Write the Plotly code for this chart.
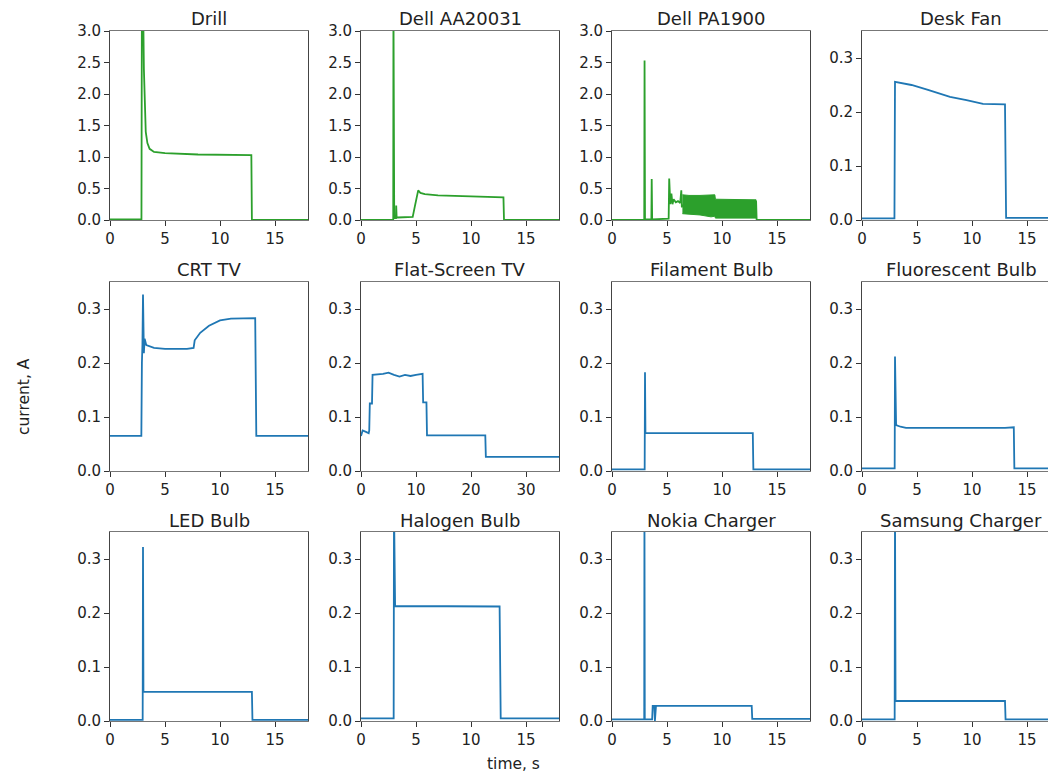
import plotly.graph_objects as go

W, H = 1048, 774

titles = ["Drill", "Dell AA20031", "Dell PA1900", "Desk Fan",
          "CRT TV", "Flat-Screen TV", "Filament Bulb", "Fluorescent Bulb",
          "LED Bulb", "Halogen Bulb", "Nokia Charger", "Samsung Charger"]

GREEN = "#2ca02c"
BLUE = "#1f77b4"

# --- data (time s, current A) ---
drill_t = [0, 2.86, 2.9, 3.02, 3.08, 3.15, 3.25, 3.4, 3.6, 4.0, 5.0, 8.0, 12.5, 12.85, 12.9, 18]
drill_i = [0.01, 0.01, 3.6, 3.3, 2.4, 1.75, 1.4, 1.22, 1.13, 1.08, 1.06, 1.04, 1.02, 1.03, 0.0, 0.0]

aa_t = [0, 2.93, 2.95, 3.0, 3.02, 3.18, 3.2, 3.24, 3.3, 4.7, 4.9, 5.05, 5.2, 5.4, 5.8, 7, 10, 12.95, 13.0, 18]
aa_i = [0.0, 0.0, 3.5, 0.03, 0.03, 0.03, 0.23, 0.04, 0.04, 0.05, 0.22, 0.38, 0.47, 0.43, 0.41, 0.39, 0.37, 0.36, 0.0, 0.0]

pa_t = [0, 2.93, 2.96, 3.0, 3.58, 3.61, 3.65, 5.15, 5.2, 5.25, 5.3, 5.4, 5.45, 5.5, 5.6, 5.8, 6.0, 6.2, 6.3, 6.35, 6.4]
pa_i = [0.0, 0.0, 2.53, 0.01, 0.01, 0.65, 0.01, 0.02, 0.66, 0.3, 0.25, 0.42, 0.3, 0.25, 0.33, 0.28, 0.3, 0.27, 0.47, 0.2, 0.25]
pa_band_t = [6.4, 7.0, 8.0, 9.0, 9.35, 9.4, 10.5, 11.5, 12.5, 13.1]
pa_band_hi = [0.40, 0.39, 0.39, 0.40, 0.40, 0.33, 0.33, 0.32, 0.32, 0.32]
pa_band_lo = [0.10, 0.09, 0.08, 0.05, 0.06, 0.03, 0.03, 0.03, 0.03, 0.03]
pa_tail_t = [13.1, 13.15, 18]
pa_tail_i = [0.3, 0.0, 0.0]

fan_t = [0, 2.95, 3.0, 4.5, 6.0, 8.0, 9.5, 11.0, 13.0, 13.1, 18]
fan_i = [0.003, 0.003, 0.256, 0.25, 0.241, 0.228, 0.222, 0.215, 0.214, 0.004, 0.004]

crt_t = [0, 2.85, 2.9, 2.95, 3.0, 3.08, 3.15, 3.3, 4.0, 5.0, 7.0, 7.6, 7.7, 8.2, 9.0, 10.0, 11.0, 13.2, 13.3, 18]
crt_i = [0.065, 0.065, 0.2, 0.235, 0.327, 0.218, 0.245, 0.233, 0.228, 0.226, 0.226, 0.228, 0.242, 0.256, 0.269, 0.279, 0.282, 0.283, 0.065, 0.065]

flat_t = [0, 0.3, 1.0, 1.4, 1.5, 1.6, 2.0, 2.1, 4.0, 5.0, 6.0, 7.0, 8.0, 9.0, 10.0, 11.2, 11.3, 11.9, 12.0, 22.6, 22.7, 36]
flat_i = [0.065, 0.075, 0.072, 0.07, 0.075, 0.125, 0.125, 0.178, 0.18, 0.182, 0.178, 0.175, 0.178, 0.176, 0.178, 0.18, 0.127, 0.127, 0.066, 0.066, 0.026, 0.026]

fil_t = [0, 2.97, 3.0, 3.04, 12.8, 12.85, 18]
fil_i = [0.003, 0.003, 0.183, 0.07, 0.07, 0.003, 0.003]

flu_t = [0, 2.97, 3.0, 3.1, 3.5, 4.0, 13.0, 13.8, 13.85, 18]
flu_i = [0.005, 0.005, 0.212, 0.085, 0.082, 0.08, 0.08, 0.081, 0.005, 0.005]

led_t = [0, 2.97, 3.0, 3.04, 12.9, 12.95, 18]
led_i = [0.002, 0.002, 0.322, 0.054, 0.054, 0.002, 0.002]

hal_t = [0, 2.97, 3.0, 3.1, 12.6, 12.7, 18]
hal_i = [0.005, 0.005, 0.4, 0.213, 0.212, 0.005, 0.005]

nok_t = [0, 2.93, 2.95, 2.98, 3.65, 3.7, 3.85, 3.9, 4.0, 12.7, 12.75, 18]
nok_i = [0.003, 0.003, 0.4, 0.003, 0.003, 0.028, 0.028, 0.0, 0.028, 0.028, 0.004, 0.004]

sam_t = [0, 2.97, 3.0, 3.05, 13.0, 13.05, 18]
sam_i = [0.003, 0.003, 0.4, 0.037, 0.037, 0.003, 0.003]

series = [(drill_t, drill_i, GREEN), (aa_t, aa_i, GREEN), (pa_t, pa_i, GREEN), (fan_t, fan_i, BLUE),
          (crt_t, crt_i, BLUE), (flat_t, flat_i, BLUE), (fil_t, fil_i, BLUE), (flu_t, flu_i, BLUE),
          (led_t, led_i, BLUE), (hal_t, hal_i, BLUE), (nok_t, nok_i, BLUE), (sam_t, sam_i, BLUE)]

big_ticks = [0.0, 0.5, 1.0, 1.5, 2.0, 2.5, 3.0]
small_ticks = [0.0, 0.1, 0.2, 0.3]

# --- layout geometry (page pixels) ---
col_left = [110, 361, 612, 862]
col_w = 198
row_top = [31, 282, 532]
row_h = 189
TICK_FS = 15
TITLE_FS = 18
LABEL_FS = 15.5


def fx(px):
    return px / W


def fy(py):
    return 1 - py / H


fig = go.Figure()
layout = dict(template="none", width=W, height=H, margin=dict(l=0, r=0, t=0, b=0, autoexpand=False),
              paper_bgcolor="white", plot_bgcolor="white", showlegend=False,
              font=dict(family="DejaVu Sans", size=14, color="#222"))
annotations = []

for k, (t, i, c) in enumerate(series):
    r, cidx = divmod(k, 4)
    n = "" if k == 0 else str(k + 1)
    xa, ya = "x" + n, "y" + n
    fig.add_trace(go.Scatter(x=t, y=i, mode="lines", line=dict(color=c, width=1.8),
                             xaxis=xa, yaxis=ya, hoverinfo="skip"))
    if k == 2:
        bx = pa_band_t + pa_band_t[::-1]
        by = pa_band_hi + pa_band_lo[::-1]
        fig.add_trace(go.Scatter(x=bx, y=by, mode="lines", fill="toself", fillcolor=c,
                                 line=dict(color=c, width=1), xaxis=xa, yaxis=ya, hoverinfo="skip"))
        fig.add_trace(go.Scatter(x=pa_tail_t, y=pa_tail_i, mode="lines", line=dict(color=c, width=1.8),
                                 xaxis=xa, yaxis=ya, hoverinfo="skip"))
    x0 = col_left[cidx]
    x1 = min(x0 + col_w, W)
    xmax = 36 if k == 5 else 18
    xr = [0, xmax * (x1 - x0) / col_w]
    y_top = row_top[r]
    y_bot = y_top + row_h
    layout["xaxis" + n] = dict(domain=[fx(x0), min(fx(x1), 1.0)], anchor=ya, range=xr, automargin=False,
                               tickmode="array",
                               tickvals=[0, 10, 20, 30] if k == 5 else [0, 5, 10, 15],
                               ticks="outside", ticklen=5, tickcolor="#333", tickwidth=1,
                               showline=True, linecolor="#777", linewidth=1, mirror=True,
                               showgrid=False, zeroline=False,
                               tickfont=dict(size=TICK_FS, color="#222"))
    yt = big_ticks if k < 3 else small_ticks
    layout["yaxis" + n] = dict(domain=[fy(y_bot), fy(y_top)], anchor=xa, automargin=False,
                               range=[0, 3.0] if k < 3 else [0, 0.35],
                               tickmode="array", tickvals=yt, tickformat=".1f",
                               ticks="outside", ticklen=5, tickcolor="#333", tickwidth=1,
                               showline=True, linecolor="#444", linewidth=1,
                               mirror=(cidx != 3),
                               showgrid=False, zeroline=False,
                               tickfont=dict(size=TICK_FS, color="#222"))
    annotations.append(dict(text=titles[k], xref="paper", yref="paper",
                            x=fx(x0 + col_w / 2), y=fy(y_top - 12),
                            xanchor="center", yanchor="middle", showarrow=False,
                            font=dict(size=TITLE_FS, color="#222")))

annotations.append(dict(text="current, A", xref="paper", yref="paper", x=fx(24), y=fy(397),
                        textangle=-90, xanchor="center", yanchor="middle", showarrow=False,
                        font=dict(size=LABEL_FS, color="#222")))
annotations.append(dict(text="time, s", xref="paper", yref="paper", x=fx(513), y=fy(764),
                        xanchor="center", yanchor="middle", showarrow=False,
                        font=dict(size=LABEL_FS, color="#222")))
layout["annotations"] = annotations
fig.update_layout(**layout)
fig.write_html("out.html", config={"displayModeBar": False, "staticPlot": True},
               post_script="document.body.style.margin='0';document.body.style.overflow='hidden';")
